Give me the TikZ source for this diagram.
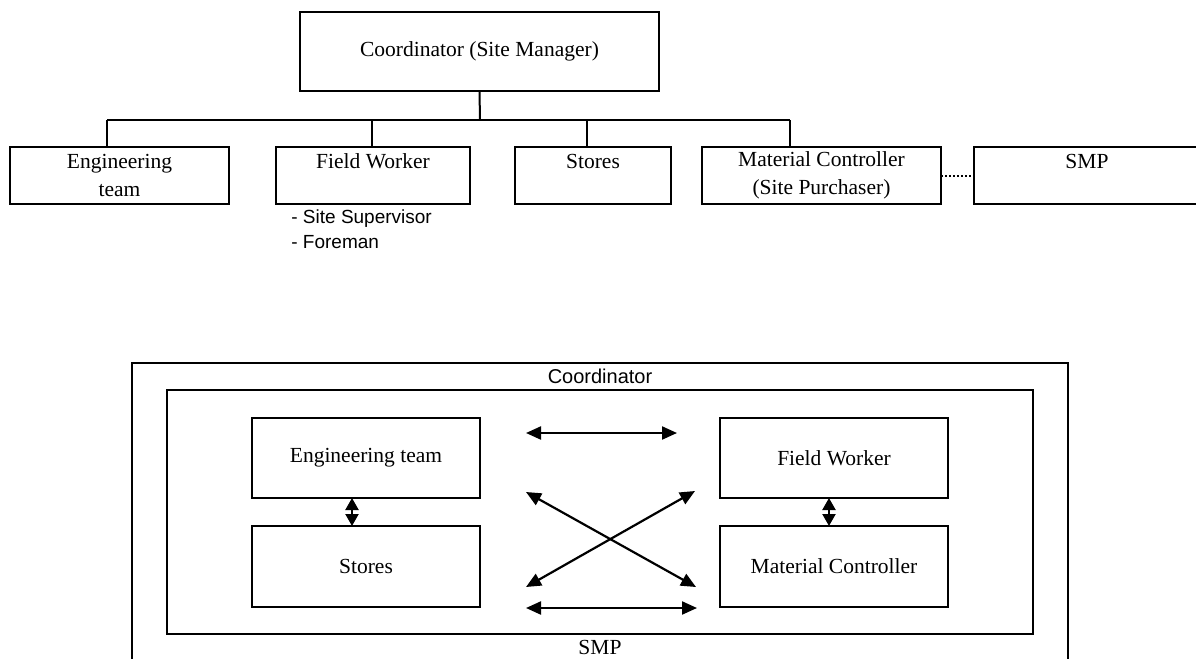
\documentclass[tikz,border=0pt]{standalone}
\usepackage{fontspec}
\setmainfont{Liberation Serif}
\newfontfamily\labelsans{Liberation Sans}
\usetikzlibrary{arrows.meta}
\begin{document}
\begin{tikzpicture}[x=0.5pt,y=-0.5pt,
  box/.style={draw, line width=1pt, inner sep=0pt, outer sep=0pt, align=center,
    font=\fontsize{10.75}{14}\selectfont},
  frame/.style={draw, line width=1pt, inner sep=0pt, outer sep=0pt},
  link/.style={line width=1pt},
  biarrow/.style={line width=1.1pt,
    {Triangle[length=7.5pt,width=6.5pt]}-{Triangle[length=7.5pt,width=6.5pt]}},
  shortarrow/.style={line width=1.1pt,
    {Triangle[length=6pt,width=6.5pt]}-{Triangle[length=6pt,width=6.5pt]}},
  serif/.style={inner sep=0pt, font=\fontsize{10.75}{14}\selectfont},
  sans/.style={inner sep=0pt, font=\labelsans\fontsize{10}{12}\selectfont},
]
\useasboundingbox (0,0) rectangle (1196,659);

% ---------- organisation chart ----------
\node[box, minimum width=179.5pt, minimum height=39.5pt] (coord) at (479.5,51.5) {Coordinator (Site Manager)};

\node[box, minimum width=109.5pt, minimum height=28.5pt] (eng) at (119.5,175.5) {Engineering\\team};
\node[box, minimum width=97pt,    minimum height=28.5pt] (fw)  at (373,175.5)   {Field Worker\\\mbox{}};
\node[box, minimum width=78pt,    minimum height=28.5pt] (st)  at (593,175.5)   {Stores\\\mbox{}};
\node[box, minimum width=119.5pt, minimum height=28.5pt] (mc)  at (821.5,175.5) {Material Controller\\(Site Purchaser)};
\node[box, minimum width=113pt,   minimum height=28.5pt] (smp) at (1087,175.5)  {SMP\\\mbox{}};

\node[anchor=west, align=left, inner sep=0pt,
      font=\labelsans\fontsize{9.5}{12.5}\selectfont] (fwlist) at (291,229.5)
      {- Site Supervisor\\- Foreman};

\coordinate (bus)     at (480,120);
\coordinate (engdrop) at (107,120);
\coordinate (fwdrop)  at (372,120);
\coordinate (stdrop)  at (587,120);
\coordinate (mcdrop)  at (790,120);

\draw[link] (coord.south) -- (bus);
\draw[link] (engdrop) -- (mcdrop);
\draw[link] (engdrop) -- (engdrop |- eng.north);
\draw[link] (fwdrop)  -- (fwdrop |- fw.north);
\draw[link] (stdrop)  -- (stdrop |- st.north);
\draw[link] (mcdrop)  -- (mcdrop |- mc.north);
\draw[line width=1pt, densely dotted] (mc.east) -- (smp.west);

% ---------- coordination model ----------
\node[frame, minimum width=468pt, minimum height=158.5pt] (outer) at (600,521.5) {};
\node[frame, minimum width=433pt, minimum height=122pt]   (inner) at (600,512) {};
\node[sans]  (coordlabel) at (600,376) {Coordinator};
\node[serif] (smplabel)   at (600,647) {SMP};

\node[box, minimum width=114pt, minimum height=40pt]   (e2) at (366,458)   {Engineering team};
\node[box, minimum width=114pt, minimum height=40.5pt] (s2) at (366,566.5) {Stores};
\node[box, minimum width=114pt, minimum height=40pt]   (f2) at (834,458)   {Field Worker};
\node[box, minimum width=114pt, minimum height=40.5pt] (m2) at (834,566.5) {Material Controller};

\coordinate (h1l) at (526,433);
\coordinate (h1r) at (677,433);
\coordinate (h2l) at (526,608);
\coordinate (h2r) at (697,608);
\coordinate (d1a) at (526,492);
\coordinate (d1b) at (696,587);
\coordinate (d2a) at (526,587);
\coordinate (d2b) at (695,491);

\draw[biarrow] (h1l) -- (h1r);
\draw[biarrow] (h2l) -- (h2r);
\draw[biarrow] (d1a) -- (d1b);
\draw[biarrow] (d2a) -- (d2b);

\draw[shortarrow] ([xshift=-7pt]e2.south) -- ([xshift=-7pt]s2.north);
\draw[shortarrow] ([xshift=-2.5pt]f2.south) -- ([xshift=-2.5pt]m2.north);
\end{tikzpicture}
\end{document}
